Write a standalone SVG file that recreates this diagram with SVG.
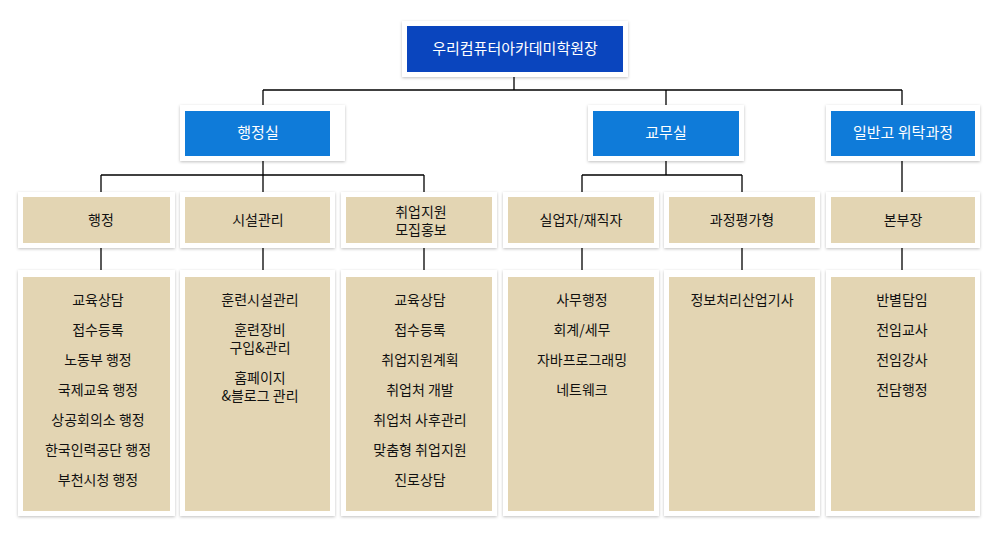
<svg xmlns="http://www.w3.org/2000/svg" width="1000" height="553" viewBox="0 0 1000 553">
<defs>
<filter id="sh" x="-10%" y="-10%" width="120%" height="130%"><feDropShadow dx="0" dy="1" stdDeviation="1.5" flood-color="#000" flood-opacity="0.25"/></filter>
</defs>
<style>
.o{fill:#fff;filter:url(#sh)}
.t{fill:#e3d5b3}
.b{fill:#0f7bd9}
text{font-family:"Noto Sans CJK KR","Noto Sans",sans-serif;font-size:14px;text-anchor:middle;fill:#111}
.w{fill:#fff;font-size:15px}
.c line{stroke:#000;stroke-width:1.3}
</style>
<rect width="1000" height="553" fill="#fff"/>
<g class="c">
<line x1="514" y1="77" x2="514" y2="90"/>
<line x1="263" y1="90" x2="902" y2="90"/>
<line x1="263" y1="90" x2="263" y2="105"/><line x1="666" y1="90" x2="666" y2="105"/><line x1="902" y1="90" x2="902" y2="105"/>
<line x1="263" y1="161" x2="263" y2="175"/><line x1="101" y1="175" x2="424" y2="175"/>
<line x1="666" y1="161" x2="666" y2="175"/><line x1="582" y1="175" x2="742" y2="175"/>
<line x1="902" y1="161" x2="902" y2="192"/>
<line x1="101" y1="175" x2="101" y2="192"/><line x1="263" y1="175" x2="263" y2="192"/><line x1="424" y1="175" x2="424" y2="192"/>
<line x1="582" y1="175" x2="582" y2="192"/><line x1="742" y1="175" x2="742" y2="192"/>
<line x1="101" y1="248" x2="101" y2="270"/><line x1="263" y1="248" x2="263" y2="270"/><line x1="424" y1="248" x2="424" y2="270"/>
<line x1="582" y1="248" x2="582" y2="270"/><line x1="742" y1="248" x2="742" y2="270"/><line x1="902" y1="248" x2="902" y2="270"/>
</g>
<g id="director"><rect class="o" x="402" y="21" width="226" height="56"/><rect x="407" y="26" width="216" height="46" fill="#0a45be"/><text class="w" x="515" y="54">우리컴퓨터아카데미학원장</text></g>
<g id="admin"><rect class="o" x="180" y="105" width="165" height="56"/><rect class="b" x="185" y="111" width="145" height="45"/><text class="w" x="258" y="138">행정실</text></g>
<g id="academic"><rect class="o" x="588" y="105" width="156" height="56"/><rect class="b" x="593" y="111" width="146" height="45"/><text class="w" x="666" y="138">교무실</text></g>
<g id="general"><rect class="o" x="826" y="105" width="154" height="56"/><rect class="b" x="831" y="111" width="144" height="45"/><text class="w" x="903" y="138">일반고 위탁과정</text></g>

<g id="n1"><rect class="o" x="18" y="192" width="157" height="56"/><rect class="t" x="23" y="197" width="147" height="46"/><text x="101" y="225">행정</text></g>
<g id="n2"><rect class="o" x="180" y="192" width="155" height="56"/><rect class="t" x="185" y="197" width="145" height="46"/><text x="258" y="225">시설관리</text></g>
<g id="n3"><rect class="o" x="341" y="192" width="156" height="56"/><rect class="t" x="346" y="197" width="146" height="46"/><text x="421" y="217">취업지원</text><text x="421" y="235">모집홍보</text></g>
<g id="n4"><rect class="o" x="503" y="192" width="156" height="56"/><rect class="t" x="508" y="197" width="146" height="46"/><text x="581" y="225">실업자/재직자</text></g>
<g id="n5"><rect class="o" x="664" y="192" width="156" height="56"/><rect class="t" x="669" y="197" width="146" height="46"/><text x="742" y="225">과정평가형</text></g>
<g id="n6"><rect class="o" x="826" y="192" width="154" height="56"/><rect class="t" x="831" y="197" width="144" height="46"/><text x="903" y="225">본부장</text></g>

<g id="d1"><rect class="o" x="18" y="270" width="157" height="246"/><rect class="t" x="23" y="277" width="147" height="234"/>
<text x="98" y="305">교육상담</text><text x="98" y="335">접수등록</text><text x="98" y="365">노동부 행정</text><text x="98" y="395">국제교육 행정</text><text x="98" y="425">상공회의소 행정</text><text x="98" y="455">한국인력공단 행정</text><text x="98" y="485">부천시청 행정</text></g>
<g id="d2"><rect class="o" x="180" y="270" width="155" height="246"/><rect class="t" x="185" y="277" width="145" height="234"/>
<text x="260" y="305">훈련시설관리</text><text x="260" y="335">훈련장비</text><text x="260" y="353">구입&amp;관리</text><text x="260" y="383">홈페이지</text><text x="260" y="401">&amp;블로그 관리</text></g>
<g id="d3"><rect class="o" x="341" y="270" width="156" height="246"/><rect class="t" x="346" y="277" width="146" height="234"/>
<text x="420" y="305">교육상담</text><text x="420" y="335">접수등록</text><text x="420" y="365">취업지원계획</text><text x="420" y="395">취업처 개발</text><text x="420" y="425">취업처 사후관리</text><text x="420" y="455">맞춤형 취업지원</text><text x="420" y="485">진로상담</text></g>
<g id="d4"><rect class="o" x="503" y="270" width="156" height="246"/><rect class="t" x="508" y="277" width="146" height="234"/>
<text x="582" y="305">사무행정</text><text x="582" y="335">회계/세무</text><text x="582" y="365">자바프로그래밍</text><text x="582" y="395">네트웨크</text></g>
<g id="d5"><rect class="o" x="664" y="270" width="156" height="246"/><rect class="t" x="669" y="277" width="146" height="234"/>
<text x="742" y="305">정보처리산업기사</text></g>
<g id="d6"><rect class="o" x="826" y="270" width="154" height="246"/><rect class="t" x="831" y="277" width="144" height="234"/>
<text x="902" y="305">반별담임</text><text x="902" y="335">전임교사</text><text x="902" y="365">전임강사</text><text x="902" y="395">전담행정</text></g>
</svg>
